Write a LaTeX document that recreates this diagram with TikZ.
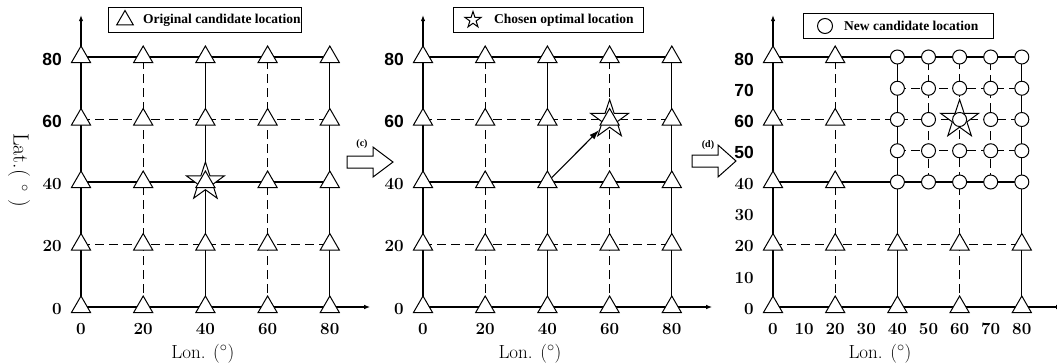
\documentclass[tikz,border=0pt]{standalone}
\usepackage{fontspec}
\newfontfamily\sansfam{Liberation Sans}
\newfontfamily\seriffam{Liberation Serif}
\usetikzlibrary{shapes.geometric,arrows.meta}
\pgfdeclarelayer{bg}
\pgfsetlayers{bg,main}
\tikzset{
 tri/.style={regular polygon, regular polygon sides=3, draw, fill=white, minimum size=22pt, inner sep=0pt, line width=1pt},
 circ/.style={circle, draw, fill=white, minimum size=14pt, inner sep=0pt, line width=1pt},
 starn/.style={star, star points=5, star point ratio=2.6, draw, fill=white, minimum size=40pt, inner sep=0pt, line width=1pt},
 solidl/.style={line width=1.1pt},
 dashl/.style={line width=1.1pt, dash pattern=on 9pt off 5pt},
 axisl/.style={line width=1.1pt, -{Latex[length=6pt,width=4.5pt]}},
 ylabS/.style={anchor=east, inner sep=0pt, font=\sansfam\bfseries\fontsize{17.5}{17.5}\selectfont, xshift=-19pt, yshift=-2pt},
 ylabR/.style={anchor=east, inner sep=0pt, font=\bfseries\fontsize{17}{17}\selectfont, xshift=-19pt, yshift=-2pt},
 xlab/.style={anchor=base, inner sep=0pt, font=\bfseries\fontsize{17}{17}\selectfont, yshift=-27pt},
 titl/.style={anchor=base, inner sep=0pt, font=\fontsize{19}{19}\selectfont},
 legbox/.style={draw, line width=1pt, minimum width=193pt, minimum height=25pt, inner sep=0pt},
 legtxt/.style={anchor=west, inner sep=0pt, font=\seriffam\bfseries\fontsize{13.5}{13.5}\selectfont},
 blockarr/.style={draw, fill=white, line width=1pt},
 steplab/.style={inner sep=0pt, font=\seriffam\bfseries\fontsize{10}{10}\selectfont},
}
\begin{document}
\begin{tikzpicture}[x=1pt, y=-1pt]
\useasboundingbox (0,0) rectangle (1057,362);

% ---------- panels 1 and 2 ----------
\foreach \ox/\p/\s/\lx in {81/1/40/39.2, 423/2/60/34.4} {
 \begin{scope}[shift={(\ox,307)}, x=3.11pt, y=3.125pt]
  \node[starn] (star\p) at (\s,\s) {};
  \foreach \i in {0,...,4} {
   \foreach \j in {0,...,4} {
    \node[tri] (p\p-\i-\j) at (20*\i,20*\j) {};
   }
  }
  \coordinate (xe\p) at (93,0);
  \coordinate (ye\p) at (0,93.4);
  \begin{pgfonlayer}{bg}
   \foreach \j/\st in {1/dashl,2/solidl,3/dashl,4/solidl}
     \draw[\st] (p\p-0-\j.center) -- (p\p-4-\j.center);
   \foreach \i/\st in {1/dashl,2/solidl,3/dashl,4/solidl}
     \draw[\st] (p\p-\i-0.center) -- (p\p-\i-4.center);
   \draw[axisl] (p\p-0-0.center) -- (xe\p);
   \draw[axisl] (p\p-0-0.center) -- (ye\p);
  \end{pgfonlayer}
  \foreach \v in {80,60} \node[ylabS] (p\p-yl\v) at (0,\v) {\v};
  \foreach \v in {40,20,0} \node[ylabR] (p\p-yl\v) at (0,\v) {\v};
  \foreach \v in {0,20,...,80} \node[xlab] (p\p-xl\v) at (\v,0) {\v};
  \node[titl, yshift=-51pt] (p\p-lon) at (\lx,0) {Lon. ($^{\circ}$)};
 \end{scope}
}
\draw[line width=1.1pt, -{Latex[length=10pt,width=6.5pt]}] (p2-2-2) -- (star2);

% ---------- panel 3 ----------
\begin{scope}[shift={(773,307)}, x=3.11pt, y=3.125pt]
 \node[starn] (star3) at (60,60) {};
 \foreach \i in {0,1} {
  \foreach \j in {0,...,4} {
   \node[tri] (p3-\i-\j) at (20*\i,20*\j) {};
  }
 }
 \foreach \i in {2,3,4} {
  \foreach \j in {0,1} {
   \node[tri] (p3-\i-\j) at (20*\i,20*\j) {};
  }
 }
 \foreach \i in {0,...,4} {
  \foreach \j in {0,...,4} {
   \node[circ] (p3c-\i-\j) at (40+10*\i,40+10*\j) {};
  }
 }
 \coordinate (xe3) at (93,0);
 \coordinate (ye3) at (0,93.4);
 \begin{pgfonlayer}{bg}
  \draw[solidl] (p3-0-4.center) -- (p3c-4-4.center);
  \draw[dashl] (p3-0-3.center) -- (p3c-4-2.center);
  \draw[solidl] (p3-0-2.center) -- (p3c-4-0.center);
  \draw[dashl] (p3-0-1.center) -- (p3-4-1.center);
  \draw[dashl] (p3c-0-3.center) -- (p3c-4-3.center);
  \draw[dashl] (p3c-0-1.center) -- (p3c-4-1.center);
  \draw[dashl] (p3-1-0.center) -- (p3-1-4.center);
  \draw[solidl] (p3-2-0.center) -- (p3c-0-4.center);
  \draw[dashl] (p3-3-0.center) -- (p3c-2-4.center);
  \draw[solidl] (p3-4-0.center) -- (p3c-4-4.center);
  \draw[dashl] (p3c-1-0.center) -- (p3c-1-4.center);
  \draw[dashl] (p3c-3-0.center) -- (p3c-3-4.center);
  \draw[axisl] (p3-0-0.center) -- (xe3);
  \draw[axisl] (p3-0-0.center) -- (ye3);
 \end{pgfonlayer}
 \foreach \v in {80,70,60,50} \node[ylabS] (p3-yl\v) at (0,\v) {\v};
 \foreach \v in {40,30,20,10,0} \node[ylabR] (p3-yl\v) at (0,\v) {\v};
 \foreach \v in {0,10,...,80} \node[xlab] (p3-xl\v) at (\v,0) {\v};
 \node[titl, yshift=-51pt] (p3-lon) at (34.4,0) {Lon. ($^{\circ}$)};
\end{scope}

% ---------- y-axis title ----------
\node[rotate=-90, inner sep=0pt, font=\fontsize{22}{22}\selectfont] (lat) at (19,170) {Lat.(\,\,$^{\circ}$\,\,)};

% ---------- legends ----------
\node[legbox] (leg1) at (204.5,19.5) {};
\node[tri, minimum size=19pt] (leg1s) at (125,20) {};
\node[legtxt] (leg1t) at (143,20) {Original candidate location};

\node[legbox, minimum width=190pt] (leg2) at (548,19.5) {};
\node[starn, minimum size=17pt] (leg2s) at (473,20) {};
\node[legtxt] (leg2t) at (494,20) {Chosen optimal location};

\node[legbox, minimum width=190pt] (leg3) at (898,25.5) {};
\node[circ, minimum size=15pt] (leg3s) at (825,26) {};
\node[legtxt] (leg3t) at (844,26) {New candidate location};

% ---------- step arrows ----------
\draw[blockarr] (347,156) -- (373,156) -- (373,147) -- (393,162) -- (373,177) -- (373,168) -- (347,168) -- cycle;
\node[steplab] (stepc) at (362,144) {(c)};
\draw[blockarr] (692,155) -- (718,155) -- (718,145) -- (736,161) -- (718,177) -- (718,167) -- (692,167) -- cycle;
\node[steplab] (stepd) at (708,145) {(d)};
\end{tikzpicture}
\end{document}
